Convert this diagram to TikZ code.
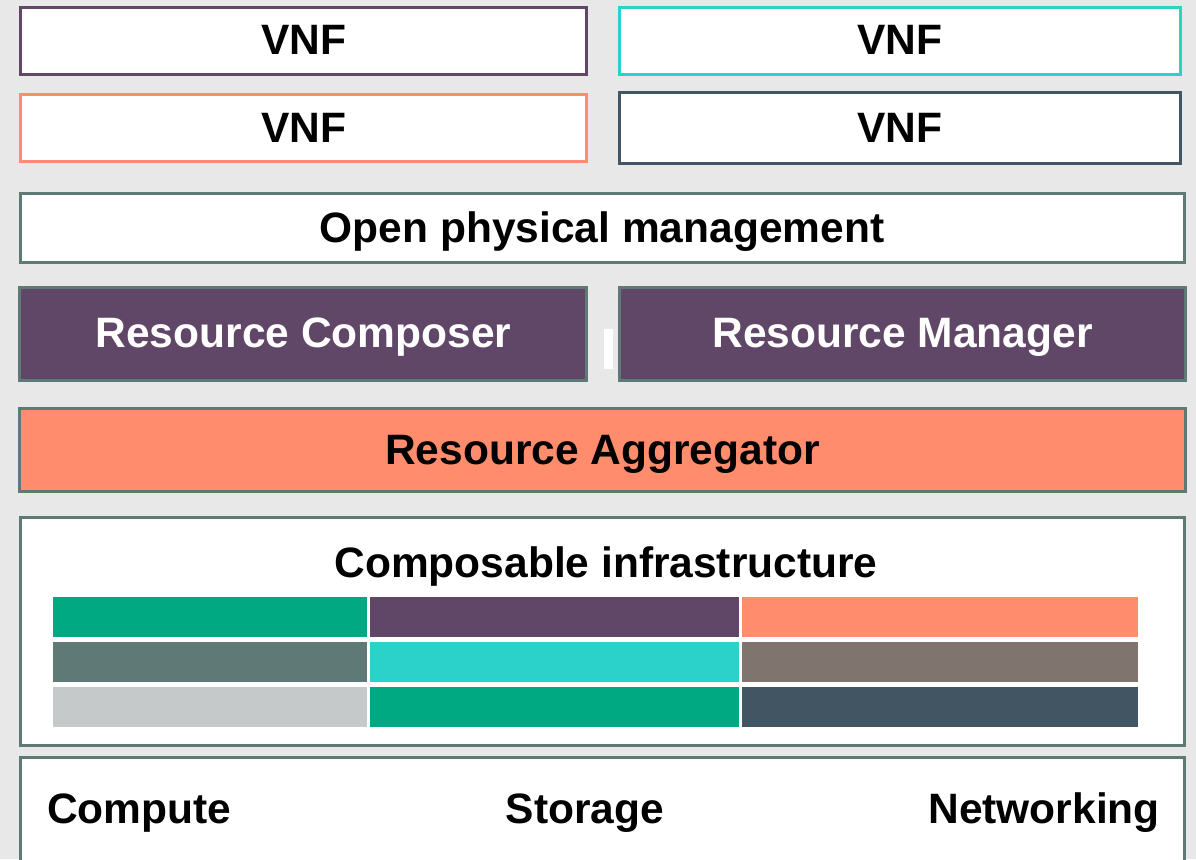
\documentclass[tikz,border=0pt]{standalone}
\usepackage{fontspec}
\setmainfont{Liberation Sans}
\definecolor{bgGray}{HTML}{E8E8E8}
\definecolor{hpeGreen}{HTML}{01A982}
\definecolor{hpePurple}{HTML}{614767}
\definecolor{hpeOrange}{HTML}{FF8D6D}
\definecolor{hpeTurq}{HTML}{2AD2C9}
\definecolor{hpeSlate}{HTML}{425563}
\definecolor{hpeSage}{HTML}{5F7A76}
\definecolor{hpeTaupe}{HTML}{80746E}
\definecolor{hpeSilver}{HTML}{C6C9CA}
\tikzset{
  lbl/.style={font=\fontsize{42.5}{48}\selectfont\bfseries, text=black, inner sep=0pt, anchor=base},
  layer/.style={draw=hpeSage, line width=3pt, fill=white, rectangle, inner sep=0pt},
  vnfbox/.style={line width=3pt, fill=white, rectangle, inner sep=0pt,
    minimum width=566pt, minimum height=66pt},
}
\begin{document}
\begin{tikzpicture}[x=1pt, y=-1pt]
  % page and background
  \useasboundingbox (0,0) rectangle (1196,859);
  \fill[bgGray] (0,0) rectangle (1196,859);
  \begin{scope}
  \clip (0,0) rectangle (1196,859);

  % VNF row
  \node[vnfbox, draw=hpePurple] (vnfA) at (303,41) {};
  \node[vnfbox, draw=hpeTurq, minimum width=561pt] (vnfB) at (900,41) {};
  \node[vnfbox, draw=hpeOrange, minimum height=67pt] (vnfC) at (303,128) {};
  \node[vnfbox, draw=hpeSlate, minimum width=561pt, minimum height=71pt] (vnfD) at (900,128) {};
  \node[lbl] (vnfAt) at (303.5,55) {VNF};
  \node[lbl] (vnfBt) at (899.5,55) {VNF};
  \node[lbl] (vnfCt) at (303.5,142) {VNF};
  \node[lbl] (vnfDt) at (899.5,142) {VNF};

  % management layer
  \node[layer, minimum width=1164pt, minimum height=69pt] (opm) at (602,228) {};
  \node[lbl] (opmT) at (602,242) {Open physical management};

  % composer / manager
  \node[layer, fill=hpePurple, minimum width=567pt, minimum height=93pt] (comp) at (303,334) {};
  \node[layer, fill=hpePurple, minimum width=566pt, minimum height=93pt] (mgr) at (902,334) {};
  \node[lbl, text=white] (compT) at (303.5,347) {Resource Composer};
  \node[lbl, text=white] (mgrT) at (902.5,347) {Resource Manager};
  \fill[white] (604,329) rectangle (613,369);

  % aggregator
  \node[layer, fill=hpeOrange, minimum width=1166pt, minimum height=83pt] (agg) at (602,450) {};
  \node[lbl] (aggT) at (602.5,464) {Resource Aggregator};

  % composable infrastructure
  \node[layer, minimum width=1164pt, minimum height=228pt] (infra) at (602,631) {};
  \node[lbl] (infraT) at (606,577) {Composable infrastructure};
  \fill[hpeGreen]  (53,597)  rectangle (367,637);
  \fill[hpePurple] (370,597) rectangle (739,637);
  \fill[hpeOrange] (742,597) rectangle (1138,637);
  \fill[hpeSage]   (53,642)  rectangle (367,682);
  \fill[hpeTurq]   (370,642) rectangle (739,682);
  \fill[hpeTaupe]  (742,642) rectangle (1138,682);
  \fill[hpeSilver] (53,687)  rectangle (367,727);
  \fill[hpeGreen]  (370,687) rectangle (739,727);
  \fill[hpeSlate]  (742,687) rectangle (1138,727);

  % hardware layer
  \node[layer, minimum width=1164pt, minimum height=140pt] (hw) at (602,827) {};
  \node[lbl, anchor=base west] (cpu) at (47,823) {Compute};
  \node[lbl] (sto) at (585,823) {Storage};
  \node[lbl, anchor=base east] (net) at (1160,823) {Networking};
  \end{scope}
\end{tikzpicture}
\end{document}
